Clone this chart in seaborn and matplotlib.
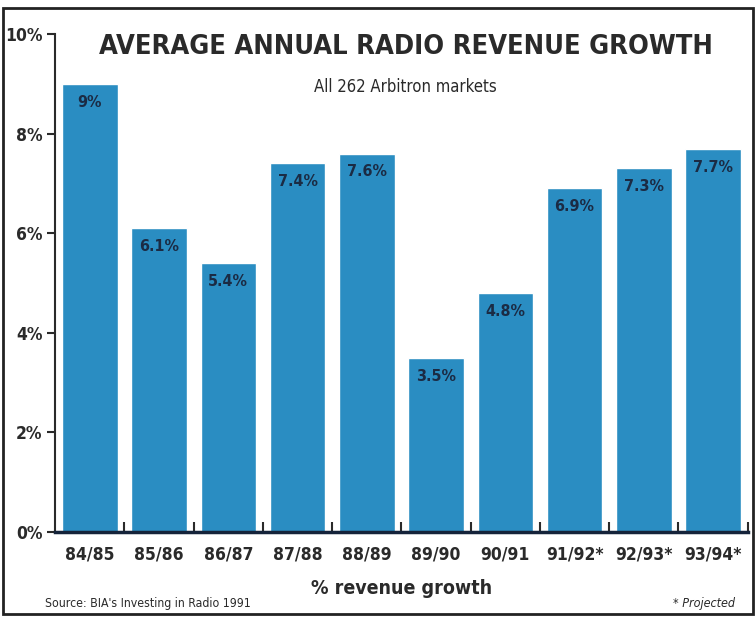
import matplotlib
matplotlib.use("Agg")
import matplotlib.pyplot as plt
import seaborn as sns
import pandas as pd
from matplotlib.patches import Rectangle

periods = ["84/85", "85/86", "86/87", "87/88", "88/89", "89/90", "90/91", "91/92*", "92/93*", "93/94*"]
growth = [9.0, 6.1, 5.4, 7.4, 7.6, 3.5, 4.8, 6.9, 7.3, 7.7]
bar_labels = ["9%", "6.1%", "5.4%", "7.4%", "7.6%", "3.5%", "4.8%", "6.9%", "7.3%", "7.7%"]
ytick_vals = [0, 2, 4, 6, 8, 10]
ytick_labels = ["0%", "2%", "4%", "6%", "8%", "10%"]

sns.set_theme(style="white")
plt.rcParams['font.family'] = ['DejaVu Sans']
plt.rcParams['font.stretch'] = 'condensed'

df = pd.DataFrame({"period": periods, "growth": growth})

fig = plt.figure(figsize=(7.56, 6.18), dpi=100)
ax = fig.add_axes([0.073, 0.139, 0.916, 0.806])

bar_color = "#2a8dc2"
sns.barplot(data=df, x="period", y="growth", color=bar_color, saturation=1,
            width=0.8, ax=ax)

ink = "#2a2a2a"
ax.set_ylim(0, 10)
ax.set_xlim(-0.5, len(periods) - 0.5)
ax.set_yticks(ytick_vals)
ax.set_yticklabels(ytick_labels, fontsize=12.5, fontweight="bold", color=ink,
                   fontstretch="condensed")
ax.set_xticks(range(len(periods)))
ax.set_xticklabels(periods, fontsize=12.5, fontweight="bold", color=ink,
                   fontstretch="condensed")
ax.set_xticks([i + 0.5 for i in range(len(periods))], minor=True)
ax.tick_params(axis="x", which="major", length=0, pad=10)
ax.tick_params(axis="x", which="minor", direction="in", length=7, width=1.5,
               color=ink, bottom=True)
ax.tick_params(axis="y", which="major", direction="out", length=6, width=1.5,
               color=ink, left=True, pad=3)
ax.set_xlabel("% revenue growth", fontsize=14, fontweight="bold", color=ink,
              labelpad=11, fontstretch="condensed")
ax.set_ylabel("")

for side in ["top", "right"]:
    ax.spines[side].set_visible(False)
ax.spines["left"].set_color(ink)
ax.spines["left"].set_linewidth(1.5)
ax.spines["bottom"].set_color("#15233a")
ax.spines["bottom"].set_linewidth(2.5)

for i, (v, lab) in enumerate(zip(growth, bar_labels)):
    ax.text(i, v - 0.22, lab, ha="center", va="top", fontsize=11.5,
            fontweight="bold", color="#1b2b44", fontstretch="condensed")

fig.text(0.537, 0.924, "AVERAGE ANNUAL RADIO REVENUE GROWTH", ha="center",
         va="center", fontsize=19.5, fontweight="bold", color=ink,
         fontstretch="condensed")
fig.text(0.536, 0.859, "All 262 Arbitron markets", ha="center", va="center",
         fontsize=12, color=ink, fontstretch="condensed")
fig.text(0.06, 0.024, "Source: BIA's Investing in Radio 1991", ha="left",
         va="center", fontsize=8.8, color=ink, fontstretch="condensed")
fig.text(0.972, 0.024, "* Projected", ha="right", va="center", fontsize=9,
         style="italic", color=ink, fontstretch="condensed")

fig.patches.append(Rectangle((0.004, 0.006), 0.992, 0.981,
                             transform=fig.transFigure, fill=False,
                             edgecolor="#222222", linewidth=2))

fig.savefig("out.png", dpi=100)
